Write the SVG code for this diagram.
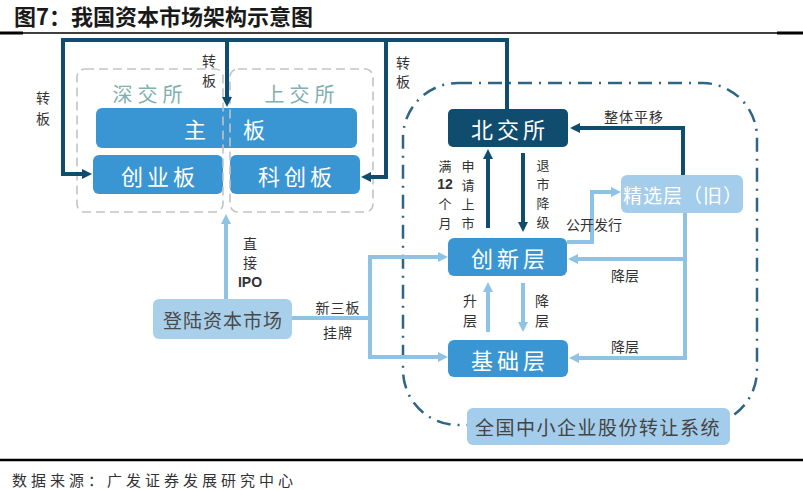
<svg xmlns="http://www.w3.org/2000/svg" width="803" height="490" viewBox="0 0 803 490">
<defs>
<style>
text{font-family:"Noto Sans CJK SC","Liberation Sans",sans-serif;}
.box{font-size:22px;fill:#fff;text-anchor:middle;dominant-baseline:central;letter-spacing:4px;}
.lbl{font-size:14px;fill:#333;text-anchor:middle;dominant-baseline:central;}
.col{font-size:13px;}
.num{font-family:"Liberation Sans",sans-serif;font-weight:bold;}
.dk{fill:none;stroke:#0f4c6e;stroke-width:4;}
.lt{fill:none;stroke:#8ec3e6;stroke-width:4;}
.mid{fill:#3a96d2;}
.ex{fill:none;stroke:#c4c4c4;stroke-width:1.6;stroke-dasharray:9 5;}
</style>
<marker id="ad" viewBox="0 0 10 10" refX="2" refY="5" markerWidth="10" markerHeight="11" markerUnits="userSpaceOnUse" orient="auto">
<path d="M0,0 L10,5 L0,10 z" fill="#0f4c6e"/>
</marker>
<marker id="al" viewBox="0 0 10 10" refX="2" refY="5" markerWidth="10" markerHeight="12" markerUnits="userSpaceOnUse" orient="auto">
<path d="M0,0 L10,5 L0,10 z" fill="#8ec3e6"/>
</marker>
</defs>
<rect width="803" height="490" fill="#fff"/>
<g id="title">
<text x="14" y="25" font-size="22" font-weight="bold" fill="#1a1a1a">图7：我国资本市场架构示意图</text>
<line x1="0" y1="33" x2="803" y2="33" stroke="#000" stroke-width="1.5"/>
<line x1="0" y1="33" x2="23" y2="33" stroke="#000" stroke-width="3"/>
<line x1="777" y1="33" x2="803" y2="33" stroke="#000" stroke-width="3"/>
</g>
<g id="neeq-boundary">
<path d="M458,83 H703 A55,55 0 0 1 757,138 V370 A55,55 0 0 1 702,425 H458 A55,55 0 0 1 403,370 V138 A55,55 0 0 1 458,83 Z" fill="none" stroke="#2f6584" stroke-width="2.5" stroke-dasharray="14 7 2 7"/>
</g>
<g id="main-board">
<rect x="96" y="108" width="261" height="40" rx="6" class="mid"/>
<text x="197" y="128" class="box">主</text>
<text x="256" y="128" class="box">板</text>
</g>
<g id="chinext">
<rect x="93" y="155" width="130" height="39" rx="6" class="mid"/>
<text x="160" y="174.5" class="box">创业板</text>
</g>
<g id="star">
<rect x="230" y="155" width="130" height="39" rx="6" class="mid"/>
<text x="297" y="174.5" class="box">科创板</text>
</g>
<g id="szse">
<rect x="77" y="69" width="146" height="143" rx="8" class="ex"/>
<text x="150" y="93" font-size="20" fill="#7fb0b0" text-anchor="middle" dominant-baseline="central" letter-spacing="5">深交所</text>
</g>
<g id="sse">
<rect x="230" y="69" width="143" height="143" rx="8" class="ex"/>
<text x="302" y="93" font-size="20" fill="#7fb0b0" text-anchor="middle" dominant-baseline="central" letter-spacing="5">上交所</text>
</g>
<g id="bse">
<rect x="448" y="109" width="120" height="38" rx="5" fill="#0f4c6e"/>
<text x="510" y="128" class="box">北交所</text>
</g>
<g id="select">
<rect x="621" y="175" width="122" height="38" rx="6" fill="#a3cdeb"/>
<text x="683" y="194" font-size="19" fill="#fff" text-anchor="middle" dominant-baseline="central" letter-spacing="1">精选层（旧）</text>
</g>
<g id="innovation">
<rect x="448" y="238" width="119" height="38" rx="6" class="mid"/>
<text x="510" y="257" class="box">创新层</text>
</g>
<g id="basic">
<rect x="448" y="340" width="120" height="37" rx="6" class="mid"/>
<text x="510" y="358.5" class="box">基础层</text>
</g>
<g id="listing">
<rect x="153" y="299" width="139" height="40" rx="6" fill="#a9d0ea"/>
<text x="223" y="319" font-size="19" fill="#4a4a4a" text-anchor="middle" dominant-baseline="central" letter-spacing="1">登陆资本市场</text>
</g>
<g id="neeq">
<rect x="467" y="408" width="263" height="37" rx="6" fill="#a3cdeb"/>
<text x="598" y="426.5" font-size="19" fill="#444" text-anchor="middle" dominant-baseline="central" letter-spacing="1.5">全国中小企业股份转让系统</text>
</g>
<g id="connectors">
<path class="dk" d="M507,109 V40 H63 V174 H84" marker-end="url(#ad)"/>
<path class="dk" d="M227,40 V99" marker-end="url(#ad)"/>
<path class="dk" d="M386,40 V177 H369" marker-end="url(#ad)"/>
<path class="dk" d="M488,228 V157" marker-end="url(#ad)"/>
<path class="dk" d="M523,153 V224" marker-end="url(#ad)"/>
<path class="dk" d="M683,175 V128 H578" marker-end="url(#ad)"/>
<path class="lt" d="M226,299 V222" marker-end="url(#al)"/>
<path class="lt" d="M292,318 H370"/>
<path class="lt" d="M370,318 V257 H440" marker-end="url(#al)"/>
<path class="lt" d="M370,318 V357 H440" marker-end="url(#al)"/>
<path class="lt" d="M567,242 H592 V192 H613" marker-end="url(#al)"/>
<path class="lt" d="M685,213 V358 H577" marker-end="url(#al)"/>
<path class="lt" d="M685,259 H576" marker-end="url(#al)"/>
<path class="lt" d="M488,332 V290" marker-end="url(#al)"/>
<path class="lt" d="M523,283 V324" marker-end="url(#al)"/>
</g>
<g id="labels">
<text class="lbl" x="43" y="97">转</text><text class="lbl" x="43" y="118">板</text>
<text class="lbl" x="209" y="60">转</text><text class="lbl" x="209" y="80">板</text>
<text class="lbl" x="403" y="62">转</text><text class="lbl" x="403" y="81">板</text>
<text class="lbl col" x="445" y="165">满</text><text class="lbl num" x="445" y="184" font-size="14">12</text><text class="lbl col" x="445" y="203">个</text><text class="lbl col" x="445" y="222">月</text>
<text class="lbl col" x="468" y="165">申</text><text class="lbl col" x="468" y="184">请</text><text class="lbl col" x="468" y="203">上</text><text class="lbl col" x="468" y="222">市</text>
<text class="lbl col" x="543" y="164">退</text><text class="lbl col" x="543" y="183">市</text><text class="lbl col" x="543" y="202">降</text><text class="lbl col" x="543" y="221">级</text>
<text class="lbl" x="250" y="243">直</text><text class="lbl" x="250" y="262">接</text><text class="lbl num" x="250" y="282" font-size="16">IPO</text>
<text class="lbl" x="338" y="307" letter-spacing="1">新三板</text><text class="lbl" x="338" y="332" letter-spacing="1">挂牌</text>
<text class="lbl" x="594" y="224" font-size="13">公开发行</text>
<text class="lbl" x="634" y="116" letter-spacing="1">整体平移</text>
<text class="lbl" x="625" y="275">降层</text>
<text class="lbl" x="625" y="346">降层</text>
<text class="lbl" x="470" y="300">升</text><text class="lbl" x="470" y="320">层</text>
<text class="lbl" x="542" y="300">降</text><text class="lbl" x="542" y="320">层</text>
</g>
<g id="source">
<line x1="0" y1="460" x2="803" y2="460" stroke="#000" stroke-width="2.5"/>
<text x="12" y="479" font-size="15" fill="#333" letter-spacing="4" dominant-baseline="central">数据来源：广发证券发展研究中心</text>
</g>
</svg>
